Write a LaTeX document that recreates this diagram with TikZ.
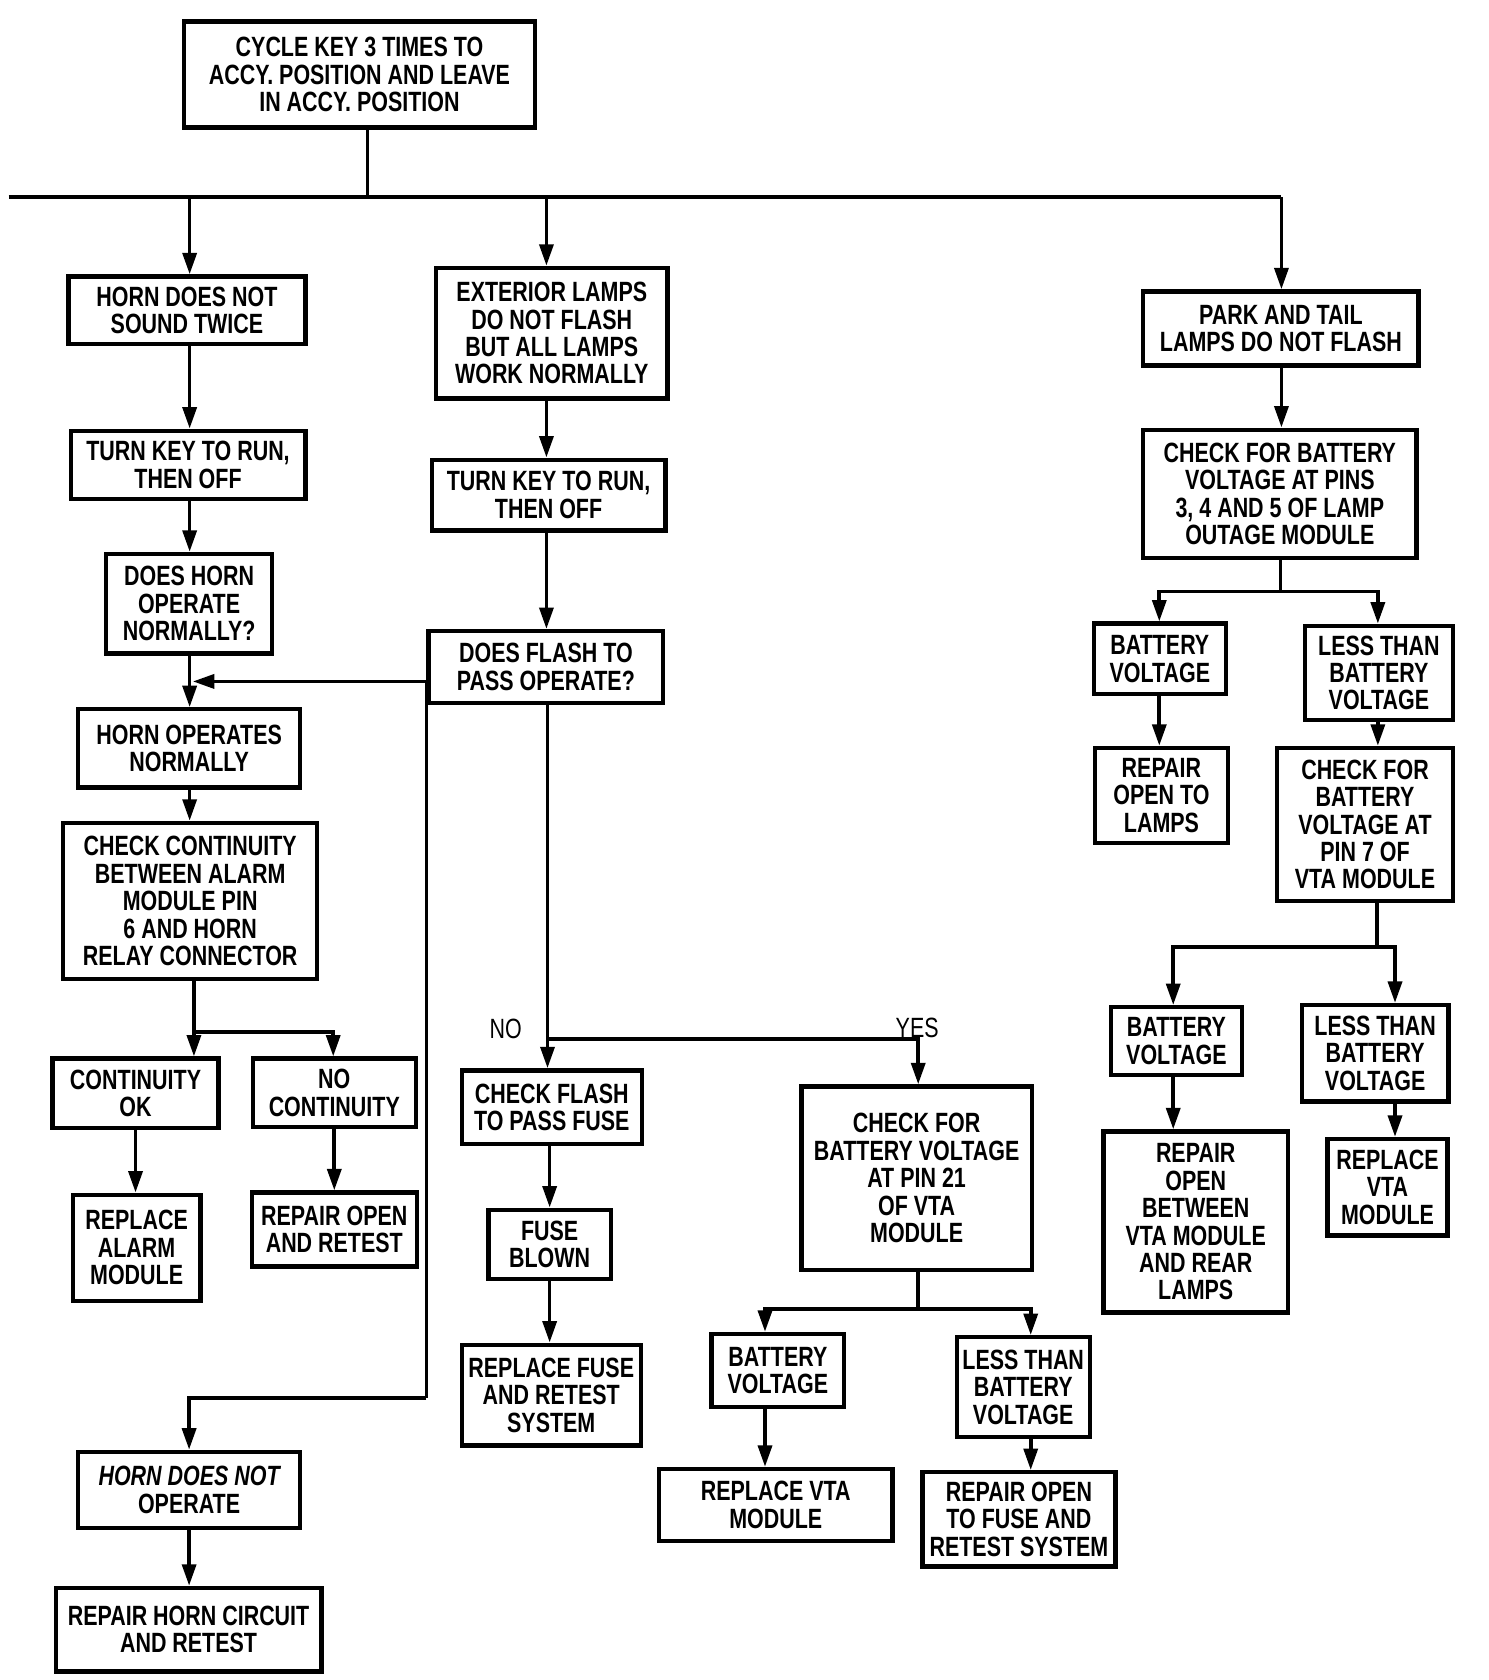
\documentclass[tikz,border=0pt]{standalone}
\usepackage{fontspec}
\setmainfont{Liberation Sans}[FakeStretch=0.77]
\usetikzlibrary{arrows.meta}
\tikzset{
  box/.style 2 args={draw,line width=2pt,inner sep=0pt,align=center,
    minimum width=#1*0.5pt,minimum height=#2*0.5pt,
    font=\bfseries\fontsize{13}{12.8}\selectfont},
  lbl/.style={inner sep=0pt,font=\fontsize{13}{13}\selectfont},
  ln/.style={line width=1.7pt},
  arr/.style={ln,-{Triangle[length=10pt,width=6.5pt]}}}
\begin{document}
\begin{tikzpicture}[x=0.5pt,y=-0.5pt]
\fill[white] (0,0) rectangle (1389,1568);
\useasboundingbox (0,0) rectangle (1389,1568);

% left column
\node[box={327}{99}] (start) at (335.5,69.5) {CYCLE KEY 3 TIMES TO\\ACCY. POSITION AND LEAVE\\IN ACCY. POSITION};
\node[box={221}{63}] (hnst) at (174.5,289.5) {HORN DOES NOT\\SOUND TWICE};
\node[box={219}{64}] (tkL) at (175.5,434) {TURN KEY TO RUN,\\THEN OFF};
\node[box={155}{93}] (dho) at (176.5,563.5) {DOES HORN\\OPERATE\\NORMALLY?};
\node[box={207}{73}] (hon) at (176.5,698.5) {HORN OPERATES\\NORMALLY};
\node[box={237}{146}] (ccb) at (177.5,841) {CHECK CONTINUITY\\BETWEEN ALARM\\MODULE PIN\\6 AND HORN\\RELAY CONNECTOR};
\node[box={155}{65}] (cok) at (126.5,1020.5) {CONTINUITY\\OK};
\node[box={152}{64}] (ncont) at (312,1020) {NO\\CONTINUITY};
\node[box={119}{99}] (ram) at (127.5,1164.5) {REPLACE\\ALARM\\MODULE};
\node[box={154}{69}] (rort) at (312,1147.5) {REPAIR OPEN\\AND RETEST};
\node[box={207}{71}] (hdno) at (176.5,1390.5) {{\itshape HORN DOES NOT}\\OPERATE};
\node[box={248}{78}] (rhc) at (176,1521) {REPAIR HORN CIRCUIT\\AND RETEST};

% middle column
\node[box={216}{122}] (ext) at (515,311) {EXTERIOR LAMPS\\DO NOT FLASH\\BUT ALL LAMPS\\WORK NORMALLY};
\node[box={218}{66}] (tkM) at (512,462) {TURN KEY TO RUN,\\THEN OFF};
\node[box={219}{67}] (dfp) at (509.5,622.5) {DOES FLASH TO\\PASS OPERATE?};
\node[box={168}{69}] (cff) at (515,1033.5) {CHECK FLASH\\TO PASS FUSE};
\node[box={114}{65}] (fb) at (513,1161.5) {FUSE\\BLOWN};
\node[box={167}{94}] (rfr) at (514.5,1302) {REPLACE FUSE\\AND RETEST\\SYSTEM};
\node[box={215}{171}] (cb21) at (855.5,1099.5) {CHECK FOR\\BATTERY VOLTAGE\\AT PIN 21\\OF VTA\\MODULE};
\node[box={124}{68}] (bvM) at (726,1279) {BATTERY\\VOLTAGE};
\node[box={124}{93}] (ltM) at (955,1294.5) {LESS THAN\\BATTERY\\VOLTAGE};
\node[box={218}{67}] (rvM) at (724,1404.5) {REPLACE VTA\\MODULE};
\node[box={180}{88}] (rof) at (951,1418) {REPAIR OPEN\\TO FUSE AND\\RETEST SYSTEM};

% right column
\node[box={257}{69}] (ptl) at (1195.5,306.5) {PARK AND TAIL\\LAMPS DO NOT FLASH};
\node[box={255}{120}] (cbp) at (1194.5,461) {CHECK FOR BATTERY\\VOLTAGE AT PINS\\3, 4 AND 5 OF LAMP\\OUTAGE MODULE};
\node[box={123}{66}] (bvR1) at (1082.5,615) {BATTERY\\VOLTAGE};
\node[box={138}{88}] (ltR1) at (1287,628) {LESS THAN\\BATTERY\\VOLTAGE};
\node[box={124}{89}] (rol) at (1084,742.5) {REPAIR\\OPEN TO\\LAMPS};
\node[box={164}{143}] (cb7) at (1274,769.5) {CHECK FOR\\BATTERY\\VOLTAGE AT\\PIN 7 OF\\VTA MODULE};
\node[box={122}{63}] (bvR2) at (1098,971.5) {BATTERY\\VOLTAGE};
\node[box={137}{90}] (ltR2) at (1283.5,983) {LESS THAN\\BATTERY\\VOLTAGE};
\node[box={172}{169}] (robv) at (1116,1140.5) {REPAIR\\OPEN\\BETWEEN\\VTA MODULE\\AND REAR\\LAMPS};
\node[box={112}{90}] (rvR) at (1295,1108) {REPLACE\\VTA\\MODULE};

% labels
\node[lbl] (no) at (472,960) {NO};
\node[lbl] (yes) at (856,959) {YES};

% top bus
\coordinate (trunk) at (343,184);
\coordinate (busL) at (8,184);
\coordinate (busR) at (1196,184);
\coordinate (bA) at (177,184);
\coordinate (bB) at (510,184);
\draw[ln] (start.south -| trunk) -- (trunk);
\draw[ln] (busL) -- (busR);
\draw[arr] (busR) -- (busR |- ptl.north);
\draw[arr] (bA) -- (bA |- hnst.north);
\draw[arr] (bB) -- (bB |- ext.north);

% left chain
\draw[arr] (hnst.south -| bA) -- (bA |- tkL.north);
\draw[arr] (tkL.south -| bA) -- (bA |- dho.north);
\draw[arr] (dho.south -| bA) -- (bA |- hon.north);
\draw[arr] (hon.south -| bA) -- (bA |- ccb.north);
\coordinate (j6) at (181,963);
\coordinate (j6r) at (311,963);
\draw[ln] (ccb.south -| j6) -- (j6);
\draw[arr] (j6) -- (j6 |- cok.north);
\draw[arr] (j6) -- (j6r) -- (j6r |- ncont.north);
\draw[arr] (cok.south) -- (cok.south |- ram.north);
\draw[arr] (ncont.south) -- (ncont.south |- rort.north);
\coordinate (lpT) at (398,636);
\coordinate (lpB) at (398,1305);
\coordinate (lpM) at (180,636);
\draw[arr] (lpB) -- (lpT) -- (lpM);
\draw[arr] (lpB) -- (lpB -| hdno.north) -- (hdno.north);
\draw[arr] (hdno.south) -- (hdno.south |- rhc.north);

% middle chain
\draw[arr] (ext.south -| bB) -- (bB |- tkM.north);
\draw[arr] (tkM.south -| bB) -- (bB |- dfp.north);
\coordinate (jm) at (511,970);
\coordinate (jy) at (857,970);
\draw[ln] (dfp.south -| jm) -- (jm);
\draw[arr] (jm) -- (jm |- cff.north);
\draw[arr] (jm) -- (jy) -- (jy |- cb21.north);
\draw[arr] (cff.south -| fb.north) -- (fb.north);
\draw[arr] (fb.south) -- (fb.south |- rfr.north);
\coordinate (j19) at (857,1222);
\coordinate (j19l) at (714,1222);
\coordinate (j19r) at (962,1222);
\draw[ln] (cb21.south -| j19) -- (j19);
\draw[arr] (j19) -- (j19l) -- (j19l |- bvM.north);
\draw[arr] (j19) -- (j19r) -- (j19r |- ltM.north);
\draw[arr] (bvM.south -| j19l) -- (j19l |- rvM.north);
\draw[arr] (ltM.south -| j19r) -- (j19r |- rof.north);

% right chain
\draw[arr] (ptl.south -| busR) -- (busR |- cbp.north);
\coordinate (j25) at (1195,552);
\coordinate (j25l) at (1082,552);
\coordinate (j25r) at (1286,552);
\draw[ln] (cbp.south -| j25) -- (j25);
\draw[arr] (j25) -- (j25l) -- (j25l |- bvR1.north);
\draw[arr] (j25) -- (j25r) -- (j25r |- ltR1.north);
\draw[arr] (bvR1.south -| j25l) -- (j25l |- rol.north);
\draw[arr] (ltR1.south -| j25r) -- (j25r |- cb7.north);
\coordinate (j29) at (1285,884);
\coordinate (j29l) at (1095,884);
\coordinate (j29r) at (1302,884);
\draw[ln] (cb7.south -| j29) -- (j29);
\draw[arr] (j29) -- (j29l) -- (j29l |- bvR2.north);
\draw[arr] (j29) -- (j29r) -- (j29r |- ltR2.north);
\draw[arr] (bvR2.south -| j29l) -- (j29l |- robv.north);
\draw[arr] (ltR2.south -| j29r) -- (j29r |- rvR.north);
\end{tikzpicture}
\end{document}
